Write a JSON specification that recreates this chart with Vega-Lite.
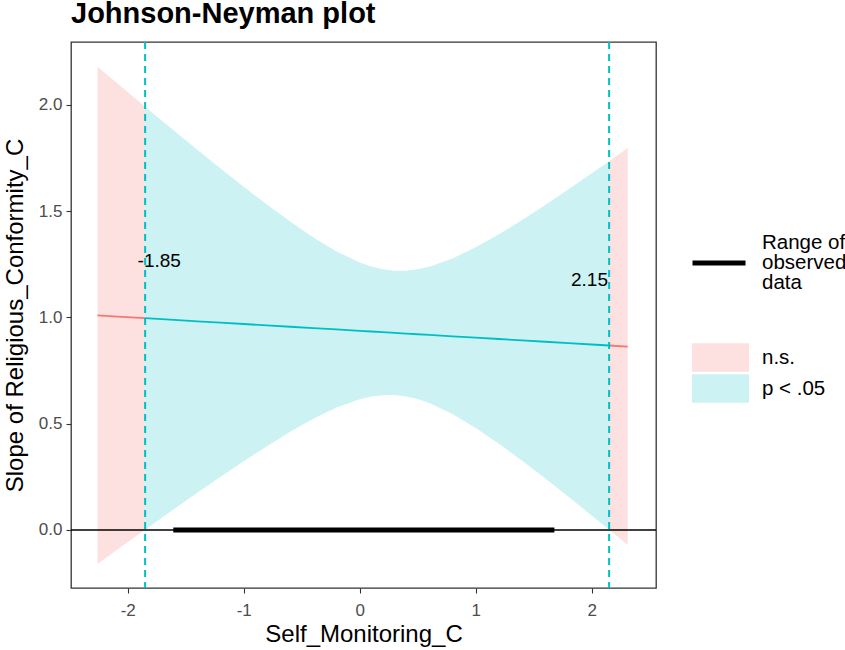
{
  "$schema": "https://vega.github.io/schema/vega-lite/v6.json",
  "autosize": "none",
  "padding": {"left": 71, "top": 42, "right": 189, "bottom": 62},
  "width": 585,
  "height": 546,
  "title": {"text": "Johnson-Neyman plot", "anchor": "start", "frame": "group", "fontSize": 29, "fontWeight": "bold", "font": "Liberation Sans", "color": "black", "baseline": "alphabetic", "offset": -11},
  "config": {
    "view": {"stroke": "#333333", "strokeWidth": 1.3},
    "axis": {"grid": false, "domain": false, "tickColor": "#333333", "tickSize": 5, "tickWidth": 1.1, "labelColor": "#4D4D4D", "labelFont": "Liberation Sans", "labelFontSize": 17, "titleFont": "Liberation Sans", "titleFontSize": 24, "titleFontWeight": "normal", "titleColor": "black"},
    "legend": {"labelFont": "Liberation Sans", "labelFontSize": 20.5, "labelColor": "black", "padding": 0}
  },
  "datasets": {
    "band": [
      {"x": -2.26, "est": 1.0095, "lo": -0.160, "hi": 2.179, "sig": "n.s.", "seg": "L"},
      {"x": -2.05, "est": 1.0028, "lo": -0.0771, "hi": 2.0827, "sig": "n.s.", "seg": "L"},
      {"x": -1.85, "est": 0.9964, "lo": 0.0013, "hi": 1.9915, "sig": "n.s.", "seg": "L"},
      {"x": -1.85, "est": 0.9964, "lo": 0.0013, "hi": 1.9915, "sig": "p < .05", "seg": "M"},
      {"x": -1.6, "est": 0.9884, "lo": 0.0983, "hi": 1.8785, "sig": "p < .05", "seg": "M"},
      {"x": -1.4, "est": 0.9819, "lo": 0.1747, "hi": 1.7891, "sig": "p < .05", "seg": "M"},
      {"x": -1.2, "est": 0.9755, "lo": 0.2500, "hi": 1.7011, "sig": "p < .05", "seg": "M"},
      {"x": -1.0, "est": 0.9691, "lo": 0.3234, "hi": 1.6148, "sig": "p < .05", "seg": "M"},
      {"x": -0.8, "est": 0.9627, "lo": 0.3944, "hi": 1.5310, "sig": "p < .05", "seg": "M"},
      {"x": -0.6, "est": 0.9563, "lo": 0.4616, "hi": 1.4509, "sig": "p < .05", "seg": "M"},
      {"x": -0.4, "est": 0.9498, "lo": 0.5233, "hi": 1.3764, "sig": "p < .05", "seg": "M"},
      {"x": -0.2, "est": 0.9434, "lo": 0.5761, "hi": 1.3107, "sig": "p < .05", "seg": "M"},
      {"x": 0.0, "est": 0.9370, "lo": 0.6153, "hi": 1.2587, "sig": "p < .05", "seg": "M"},
      {"x": 0.1, "est": 0.9338, "lo": 0.6278, "hi": 1.2398, "sig": "p < .05", "seg": "M"},
      {"x": 0.2, "est": 0.9306, "lo": 0.6345, "hi": 1.2267, "sig": "p < .05", "seg": "M"},
      {"x": 0.3, "est": 0.9274, "lo": 0.6348, "hi": 1.2199, "sig": "p < .05", "seg": "M"},
      {"x": 0.4, "est": 0.9242, "lo": 0.6284, "hi": 1.2199, "sig": "p < .05", "seg": "M"},
      {"x": 0.5, "est": 0.9210, "lo": 0.6157, "hi": 1.2263, "sig": "p < .05", "seg": "M"},
      {"x": 0.6, "est": 0.9177, "lo": 0.5970, "hi": 1.2385, "sig": "p < .05", "seg": "M"},
      {"x": 0.8, "est": 0.9113, "lo": 0.5454, "hi": 1.2772, "sig": "p < .05", "seg": "M"},
      {"x": 1.0, "est": 0.9049, "lo": 0.4800, "hi": 1.3298, "sig": "p < .05", "seg": "M"},
      {"x": 1.2, "est": 0.8985, "lo": 0.4057, "hi": 1.3913, "sig": "p < .05", "seg": "M"},
      {"x": 1.4, "est": 0.8921, "lo": 0.3257, "hi": 1.4584, "sig": "p < .05", "seg": "M"},
      {"x": 1.6, "est": 0.8856, "lo": 0.2420, "hi": 1.5293, "sig": "p < .05", "seg": "M"},
      {"x": 1.8, "est": 0.8792, "lo": 0.1558, "hi": 1.6027, "sig": "p < .05", "seg": "M"},
      {"x": 2.0, "est": 0.8728, "lo": 0.0677, "hi": 1.6779, "sig": "p < .05", "seg": "M"},
      {"x": 2.15, "est": 0.8680, "lo": 0.0009, "hi": 1.7351, "sig": "p < .05", "seg": "M"},
      {"x": 2.15, "est": 0.8680, "lo": 0.0009, "hi": 1.7351, "sig": "n.s.", "seg": "R"},
      {"x": 2.31, "est": 0.8629, "lo": -0.0712, "hi": 1.7969, "sig": "n.s.", "seg": "R"}
    ],
    "bounds": [
      {"x": -1.85, "labelx": -1.915, "labely": 1.264, "label": "-1.85", "side": "left"},
      {"x": 2.15, "labelx": 2.14, "labely": 1.178, "label": "2.15", "side": "right"}
    ],
    "range": [
      {"lo": -1.607, "hi": 1.678, "y": 0, "what": "Range of observed data"}
    ]
  },
  "layer": [
    {
      "data": {"name": "band"},
      "mark": {"type": "area", "opacity": 1},
      "encoding": {
        "x": {"field": "x", "type": "quantitative", "scale": {"domain": [-2.489, 2.554], "nice": false, "zero": false}, "axis": {"title": "Self_Monitoring_C", "values": [-2, -1, 0, 1, 2], "labelExpr": "datum.value < 0 ? '-' + abs(datum.value) : '' + datum.value", "labelPadding": 9, "titlePadding": 4}},
        "y": {"field": "lo", "type": "quantitative", "stack": null, "scale": {"domain": [-0.273, 2.296], "nice": false, "zero": false}, "axis": {"title": "Slope of Religious_Conformity_C", "values": [0, 0.5, 1, 1.5, 2], "format": ".1f", "labelPadding": 4, "titlePadding": 11}},
        "y2": {"field": "hi"},
        "fill": {"field": "sig", "type": "nominal", "scale": {"domain": ["n.s.", "p < .05"], "range": ["#FDE1E0", "#CCF2F3"]},
          "legend": {"title": null, "orient": "none", "legendX": 635, "legendY": 301, "columns": 1, "symbolType": "M-2,-1H2V1H-2Z", "symbolSize": 812, "symbolStrokeWidth": 0, "labelOffset": 27, "rowPadding": 2,
            "encode": {"symbols": {"update": {"fill": {"signal": "datum.value === 'n.s.' ? '#FFCCCC' : '#CCF2F3'"}, "opacity": {"value": 1}}}}}},
        "detail": {"field": "seg"}
      }
    },
    {
      "data": {"name": "band"},
      "mark": {"type": "line", "strokeWidth": 1.8},
      "encoding": {
        "x": {"field": "x", "type": "quantitative"},
        "y": {"field": "est", "type": "quantitative"},
        "color": {"field": "sig", "type": "nominal", "scale": {"domain": ["n.s.", "p < .05"], "range": ["#F8766D", "#00BFC4"]}, "legend": null},
        "detail": {"field": "seg"}
      }
    },
    {
      "data": {"values": [{"z": 0}]},
      "mark": {"type": "rule", "color": "black", "strokeWidth": 1.6},
      "encoding": {"y": {"field": "z", "type": "quantitative"}}
    },
    {
      "data": {"name": "range"},
      "mark": {"type": "rule", "strokeWidth": 5, "strokeCap": "butt"},
      "encoding": {
        "x": {"field": "lo", "type": "quantitative"},
        "x2": {"field": "hi"},
        "y": {"field": "y", "type": "quantitative"},
        "stroke": {"field": "what", "type": "nominal", "scale": {"range": ["black"]},
          "legend": {"title": null, "orient": "none", "legendX": 619, "legendY": 192, "symbolType": "stroke", "symbolSize": 2809, "symbolStrokeWidth": 5, "labelOffset": 14, "labelExpr": "['Range of', 'observed', 'data']",
            "encode": {"labels": {"update": {"dy": {"value": -20}, "lineHeight": {"value": 20}}}}}}
      }
    },
    {
      "data": {"name": "bounds"},
      "mark": {"type": "rule", "color": "#00BFC4", "strokeWidth": 2, "strokeDash": [7, 5]},
      "encoding": {"x": {"field": "x", "type": "quantitative"}}
    },
    {
      "data": {"name": "bounds"},
      "transform": [{"filter": "datum.side === 'left'"}],
      "mark": {"type": "text", "align": "left", "baseline": "middle", "font": "Liberation Sans", "fontSize": 19, "color": "black"},
      "encoding": {"x": {"field": "labelx", "type": "quantitative"}, "y": {"field": "labely", "type": "quantitative"}, "text": {"field": "label"}}
    },
    {
      "data": {"name": "bounds"},
      "transform": [{"filter": "datum.side === 'right'"}],
      "mark": {"type": "text", "align": "right", "baseline": "middle", "font": "Liberation Sans", "fontSize": 19, "color": "black"},
      "encoding": {"x": {"field": "labelx", "type": "quantitative"}, "y": {"field": "labely", "type": "quantitative"}, "text": {"field": "label"}}
    }
  ]
}
